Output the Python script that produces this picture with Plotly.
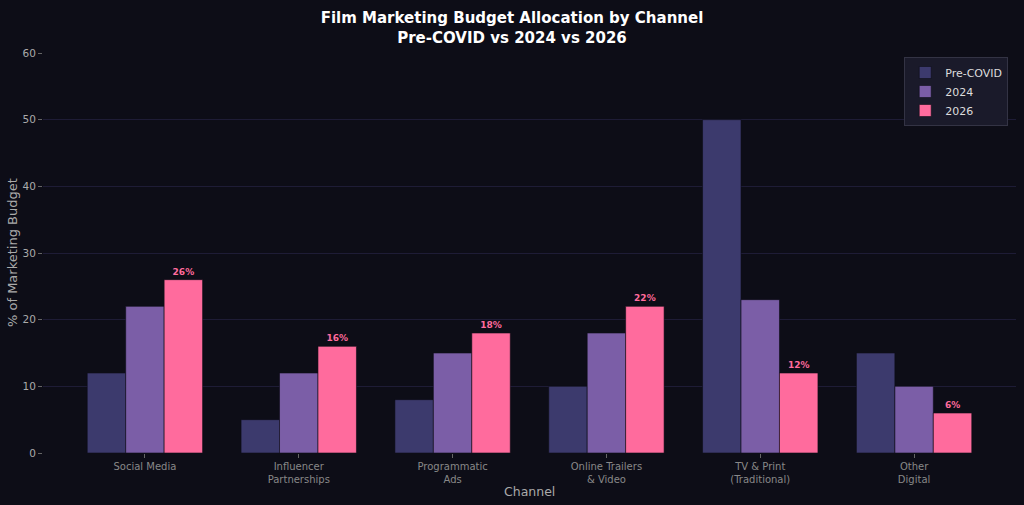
import plotly.graph_objects as go

categories = ["Social Media", "Influencer<br>Partnerships", "Programmatic<br>Ads",
              "Online Trailers<br>& Video", "TV & Print<br>(Traditional)", "Other<br>Digital"]
pre_covid = [12, 5, 8, 10, 50, 15]
y2024 = [22, 12, 15, 18, 23, 10]
y2026 = [26, 16, 18, 22, 12, 6]
y_ticks = [0, 10, 20, 30, 40, 50, 60]

BG = "#0d0d17"
FONT = "DejaVu Sans, sans-serif"
x = list(range(len(categories)))

fig = go.Figure()
fig.add_trace(go.Bar(x=x, y=pre_covid, name="Pre-COVID", marker=dict(color="#3c3a6d", line=dict(color=BG, width=0.6))))
fig.add_trace(go.Bar(x=x, y=y2024, name="2024", marker=dict(color="#7b5ea7", line=dict(color=BG, width=0.6))))
fig.add_trace(go.Bar(x=x, y=y2026, name="2026", marker=dict(color="#ff6b9d", line=dict(color=BG, width=0.6)),
                     text=[f"<b>{v}%</b>" for v in y2026], textposition="outside",
                     textfont=dict(color="#ff6b9d", size=9, family=FONT), cliponaxis=False))

fig.update_layout(
    width=1024, height=505,
    paper_bgcolor=BG, plot_bgcolor=BG,
    margin=dict(l=43, r=8, t=53, b=52),
    barmode="group", bargap=0.25, bargroupgap=0,
    font=dict(family=FONT, color="#aaaaaa", size=10),
    title=dict(text="<b>Film Marketing Budget Allocation by Channel<br>Pre-COVID vs 2024 vs 2026</b>",
               x=0.5, xanchor="center", y=1 - 23 / 505, yanchor="middle",
               font=dict(size=15, color="#ffffff", family=FONT)),
    legend=dict(x=0.992, xanchor="right", y=0.99, yanchor="top",
                bgcolor="#1a1a2a", bordercolor="#333344", borderwidth=1,
                font=dict(size=11, color="#dddddd"), tracegroupgap=0, itemwidth=30),
    showlegend=True,
    annotations=[
        dict(text="Channel", xref="paper", yref="paper", x=0.5, y=-38 / 400,
             xanchor="center", yanchor="middle", showarrow=False,
             font=dict(size=12.5, color="#aaaaaa", family=FONT)),
        dict(text="% of Marketing Budget", xref="paper", yref="paper", x=-31 / 973, y=0.5,
             xanchor="center", yanchor="middle", showarrow=False, textangle=-90,
             font=dict(size=13, color="#aaaaaa", family=FONT)),
    ],
)
fig.update_xaxes(
    tickmode="array", tickvals=x, ticktext=categories,
    range=[-0.6625, 5.6625], showgrid=False, zeroline=False,
    ticks="outside", ticklen=4, tickcolor="#666666",
    tickfont=dict(size=10, color="#888888"), automargin=False,
    showline=False,
)
fig.update_yaxes(
    range=[0, 60], tickvals=y_ticks, showgrid=True, gridcolor="#1e1c36", gridwidth=1,
    zeroline=False, ticks="outside", ticklen=4, tickcolor="#666666",
    tickfont=dict(size=10.5, color="#aaaaaa"), automargin=False,
    showline=False,
)
fig.write_html("out.html")
